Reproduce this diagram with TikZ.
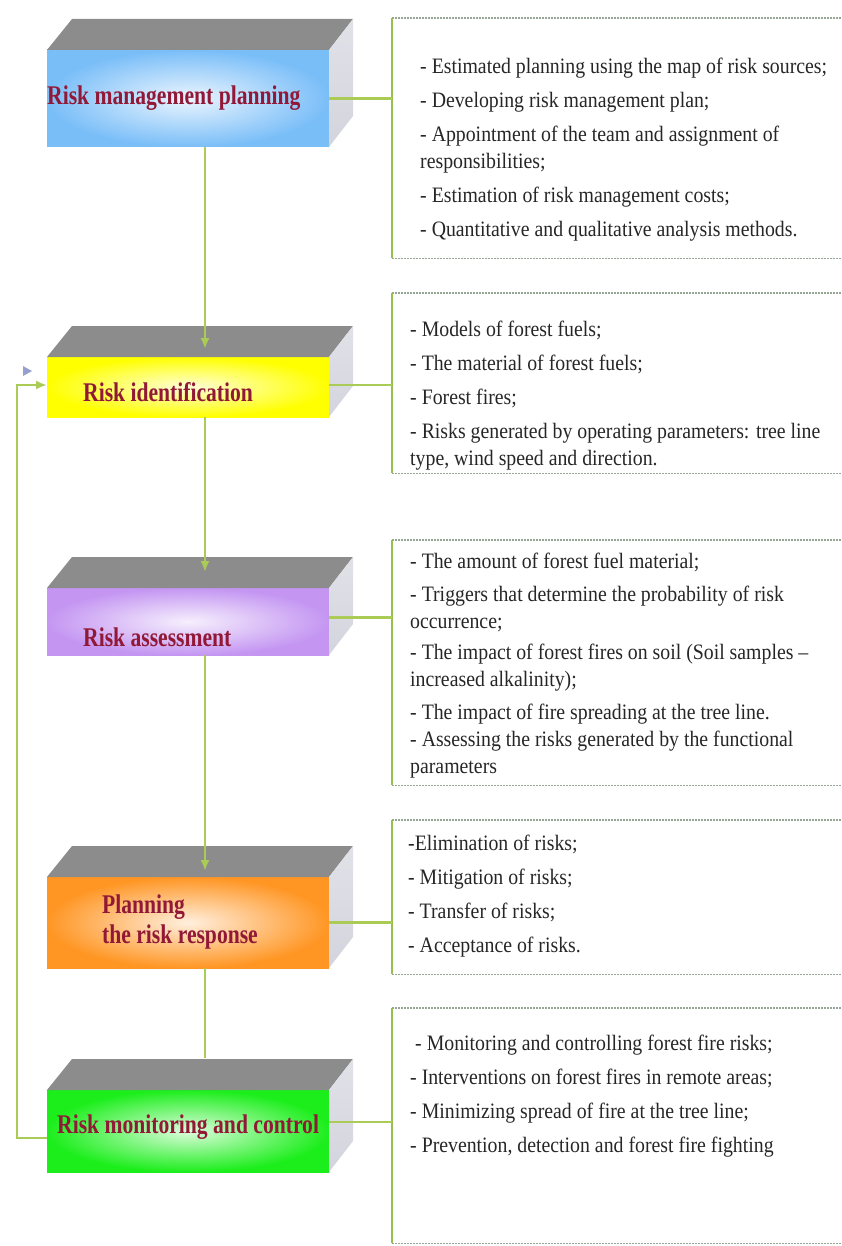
\documentclass[tikz,border=0pt]{standalone}
\usepackage{fontspec}
\setmainfont{Liberation Serif}[FakeStretch=0.9]
\newfontfamily\lblfamily{Liberation Serif}[FakeStretch=0.8]
\usetikzlibrary{arrows.meta}

\definecolor{planblue}{RGB}{122,190,248}
\definecolor{identyellow}{RGB}{255,255,0}
\definecolor{assesslilac}{RGB}{196,150,242}
\definecolor{resporange}{RGB}{255,150,36}
\definecolor{monitgreen}{RGB}{28,238,28}
\definecolor{lidgray}{RGB}{140,140,140}
\definecolor{flankgray}{RGB}{212,212,222}
\definecolor{linkgreen}{RGB}{170,204,86}
\definecolor{rulegreen}{RGB}{150,190,80}
\definecolor{dotgray}{RGB}{150,165,150}
\definecolor{lblred}{RGB}{145,25,55}
\definecolor{markblue}{RGB}{150,160,205}

\begin{document}
\begin{tikzpicture}[x=1pt, y=-1pt,
    cube/.style={rectangle, minimum width=282pt, inner sep=0pt, outer sep=0pt,
        inner color=#1!15!white, outer color=#1},
    lid/.style={fill=lidgray},
    flank/.style={top color=flankgray!70!white, bottom color=flankgray},
    cubetext/.style={font=\lblfamily\bfseries\fontsize{27}{30}\selectfont, text=lblred,
        anchor=west, align=left, inner sep=0pt},
    panel/.style={rectangle, minimum width=449pt, anchor=north west, inner sep=0pt},
    items/.style={font=\fontsize{22}{27}\selectfont, text=black!85, anchor=north west,
        align=left, inner sep=0pt},
    wire/.style={draw=linkgreen, line width=2.2pt},
    arrowed/.style={-{Latex[length=11pt,width=9pt]}},
    dotrule/.style={draw=dotgray, line width=1.2pt, dash pattern=on 2pt off 1pt},
    siderule/.style={draw=rulegreen, line width=2pt},
    ]
    \useasboundingbox (0,0) rectangle (841,1246);

    % stages (front faces)
    \node[cube=planblue, minimum height=97pt] (plan) at (188,98.5) {};
    \node[cube=identyellow, minimum height=60pt] (ident) at (188,387) {};
    \node[cube=assesslilac, minimum height=67pt] (assess) at (188,621.5) {};
    \node[cube=resporange, minimum height=91pt] (resp) at (188,922.5) {};
    \node[cube=monitgreen, minimum height=82pt] (monit) at (188,1131) {};

    % top and side faces
    \foreach \b in {plan,ident,assess,resp,monit}{
        \fill[lid] (\b.north west) -- ++(25,-31) -- ([shift={(24,-31)}]\b.north east) -- (\b.north east) -- cycle;
        \shade[flank] (\b.north east) -- ++(24,-31) -- ([shift={(24,-31)}]\b.south east) -- (\b.south east) -- cycle;
    }

    \node[cubetext] (plan-t) at (47,98) {Risk management planning};
    \node[cubetext] (ident-t) at (83,392) {Risk identification};
    \node[cubetext] (assess-t) at (83,637) {Risk assessment};
    \node[cubetext] (resp-t) at (102,922) {Planning\\the risk response};
    \node[cubetext] (monit-t) at (57,1127) {Risk monitoring and control};

    % detail panels
    \node[panel, minimum height=240pt] (list1) at (392,18) {};
    \node[panel, minimum height=180pt] (list2) at (392,293) {};
    \node[panel, minimum height=245pt] (list3) at (392,540) {};
    \node[panel, minimum height=154pt] (list4) at (392,820) {};
    \node[panel, minimum height=235pt] (list5) at (392,1008) {};

    \foreach \i in {1,...,5}{
        \draw[dotrule] (list\i.north east) -- (list\i.north west) (list\i.south west) -- (list\i.south east);
        \draw[siderule] (list\i.north west) -- (list\i.south west);
    }

    \node[items] (list1-t) at (420,58) {- Estimated planning using the map of risk sources;\\[7pt]
        - Developing risk management plan;\\[7pt]
        - Appointment of the team and assignment of\\responsibilities;\\[7pt]
        - Estimation of risk management costs;\\[7pt]
        - Quantitative and qualitative analysis methods.};
    \node[items] (list2-t) at (410,321) {- Models of forest fuels;\\[7pt]
        - The material of forest fuels;\\[7pt]
        - Forest fires;\\[7pt]
        - Risks generated by operating parameters: tree line\\type, wind speed and direction.};
    \node[items] (list3-t) at (410,553) {- The amount of forest fuel material;\\[6pt]
        - Triggers that determine the probability of risk\\occurrence;\\[4pt]
        - The impact of forest fires on soil (Soil samples --\\increased alkalinity);\\[6pt]
        - The impact of fire spreading at the tree line.\\
        - Assessing the risks generated by the functional\\parameters};
    \node[items] (list4-t) at (408,835) {-Elimination of risks;\\[7pt]
        - Mitigation of risks;\\[7pt]
        - Transfer of risks;\\[7pt]
        - Acceptance of risks.};
    \node[items] (list5-t) at (410,1035) {\hspace{5pt}- Monitoring and controlling forest fire risks;\\[7pt]
        - Interventions on forest fires in remote areas;\\[7pt]
        - Minimizing spread of fire at the tree line;\\[7pt]
        - Prevention, detection and forest fire fighting};

    % links to the panels
    \draw[wire] (plan.east) -- (plan.east -| list1.west);
    \draw[wire] ([yshift=2pt]ident.east) -- ([yshift=2pt]ident.east -| list2.west);
    \draw[wire] ([yshift=4pt]assess.east) -- ([yshift=4pt]assess.east -| list3.west);
    \draw[wire] (resp.east) -- (resp.east -| list4.west);
    \draw[wire] ([yshift=9pt]monit.east) -- ([yshift=9pt]monit.east -| list5.west);

    % main flow
    \draw[wire, arrowed] ([xshift=17pt]plan.south) -- ([xshift=17pt,yshift=8pt]ident.north);
    \draw[wire, arrowed] ([xshift=17pt]ident.south) -- ([xshift=17pt,yshift=16pt]assess.north);
    \draw[wire, arrowed] ([xshift=17pt]assess.south) -- ([xshift=17pt,yshift=6pt]resp.north);
    \draw[wire] ([xshift=17pt]resp.south) -- ([xshift=17pt,yshift=32pt]monit.north);

    % feedback loop
    \draw[wire, arrowed] ([yshift=-7pt]monit.west) -- ++(-30,0) |- ([yshift=2pt]ident.west);
    \fill[markblue] (23,366) -- (32,371) -- (23,376) -- cycle;
\end{tikzpicture}
\end{document}
